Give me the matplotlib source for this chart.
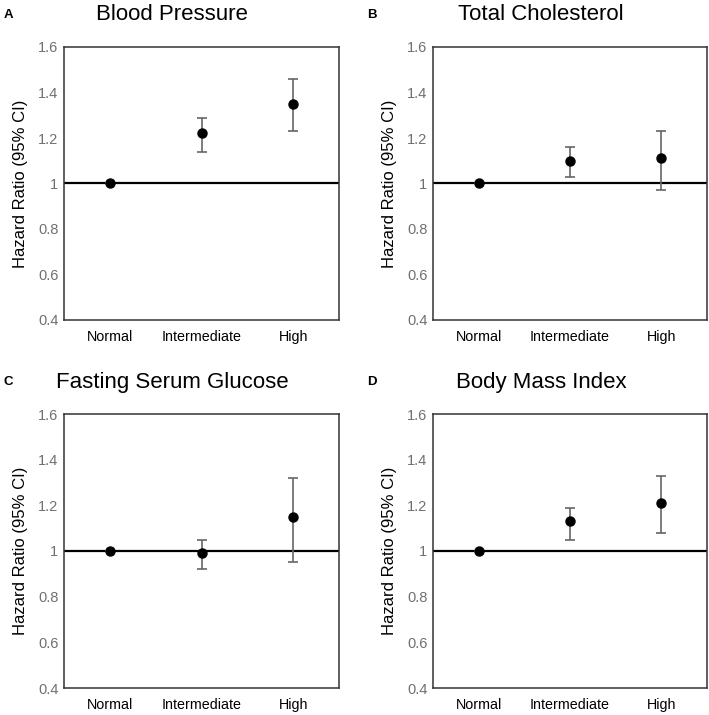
import matplotlib
matplotlib.use("Agg")
import matplotlib.pyplot as plt

plt.rcParams["font.family"] = ["Liberation Sans", "DejaVu Sans"]

categories = ["Normal", "Intermediate", "High"]
titles = ["Blood Pressure", "Total Cholesterol", "Fasting Serum Glucose", "Body Mass Index"]
panel_labels = ["A", "B", "C", "D"]

# hazard ratio, lower and upper 95% CI per panel
hr = [
    [1.00, 1.22, 1.35],
    [1.00, 1.10, 1.11],
    [1.00, 0.99, 1.15],
    [1.00, 1.13, 1.21],
]
ci_low = [
    [1.00, 1.14, 1.23],
    [1.00, 1.03, 0.97],
    [1.00, 0.92, 0.95],
    [1.00, 1.05, 1.08],
]
ci_high = [
    [1.00, 1.29, 1.46],
    [1.00, 1.16, 1.23],
    [1.00, 1.05, 1.32],
    [1.00, 1.19, 1.33],
]
yticks = [0.4, 0.6, 0.8, 1.0, 1.2, 1.4, 1.6]
ytick_labels = ["0.4", "0.6", "0.8", "1", "1.2", "1.4", "1.6"]

W, H = 709, 715
fig = plt.figure(figsize=(W / 100, H / 100), dpi=100)

# axes boxes in pixels: left, top, right, bottom
boxes = [(64, 47, 339, 320), (433, 47, 707, 320), (64, 414, 339, 688), (433, 414, 707, 688)]
title_pos = [(172, 15), (541, 15), (172, 382), (541, 382)]
label_pos = [(4, 15), (367, 15), (4, 382), (367, 382)]

x = [1, 2, 3]
for i in range(4):
    l, t, r, b = boxes[i]
    ax = fig.add_axes([l / W, 1 - b / H, (r - l) / W, (b - t) / H])
    ax.axhline(1.0, color="black", lw=1.6, zorder=1)
    lo = [h - c for h, c in zip(hr[i], ci_low[i])]
    up = [c - h for h, c in zip(hr[i], ci_high[i])]
    ax.errorbar(x, hr[i], yerr=[lo, up], fmt="none", ecolor="#666666",
                elinewidth=1.2, capsize=3.5, capthick=1.2, zorder=2)
    ax.plot(x, hr[i], "o", color="black", ms=6.5, zorder=3)
    ax.set_xlim(0.5, 3.5)
    ax.set_ylim(0.4, 1.6)
    ax.set_xticks(x)
    ax.set_xticklabels(categories, fontsize=10.3)
    ax.set_yticks(yticks)
    ax.set_yticklabels(ytick_labels, fontsize=10.5, color="#707070")
    ax.tick_params(axis="both", length=0)
    ax.tick_params(axis="y", pad=4)
    ax.tick_params(axis="x", pad=7)
    ax.set_ylabel("Hazard Ratio (95% CI)", fontsize=12, labelpad=7)
    for s in ax.spines.values():
        s.set_color("#333333")
        s.set_linewidth(1.1)
    tx, ty = title_pos[i]
    fig.text(tx / W, 1 - ty / H, titles[i], fontsize=16, ha="center", va="center")
    px, py = label_pos[i]
    fig.text(px / W, 1 - py / H, panel_labels[i], fontsize=9.5, fontweight="bold",
             ha="left", va="center")

fig.savefig("out.png", dpi=100)
